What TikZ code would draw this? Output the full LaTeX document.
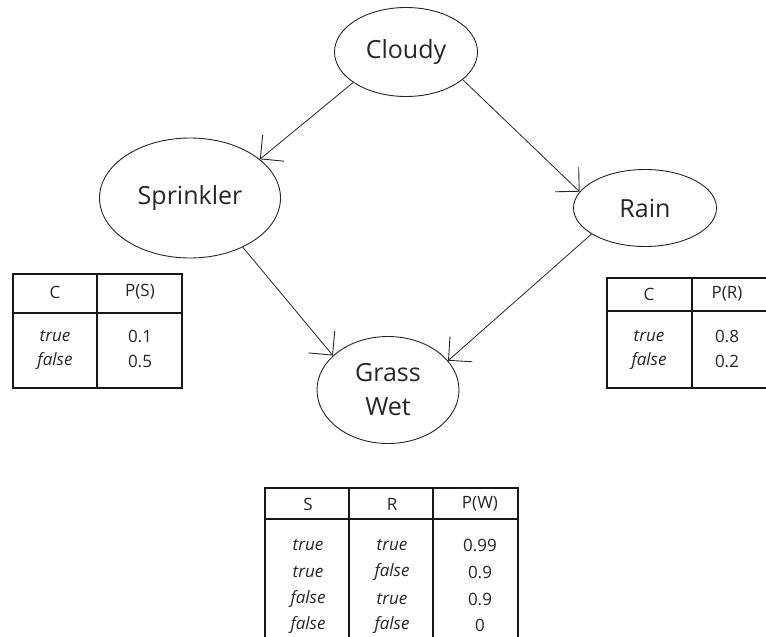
\documentclass[tikz,border=0pt]{standalone}
\usepackage{fontspec}
\setmainfont{Open Sans}
\usetikzlibrary{shapes.geometric,arrows.meta}
\begin{document}
\begin{tikzpicture}[x=1pt,y=-1pt,
  var/.style={draw=black!85,line width=0.9pt,ellipse,inner sep=0pt,
    font=\fontsize{25}{34}\selectfont,text=black!85,align=center},
  edge/.style={draw=black!85,line width=0.8pt,-{Straight Barb[angle=90:24pt,line width=0.9pt]}},
  tbl/.style={draw=black!90,line width=1.2pt},
  cell/.style={inner sep=0pt,font=\fontsize{17}{20}\selectfont,text=black!85},
  icell/.style={cell,font=\fontsize{17}{20}\selectfont\itshape}]
\clip (0,0) rectangle (766,637);
\fill[white] (0,0) rectangle (766,637);
% variables
\node[var,minimum width=143pt,minimum height=89pt] (cloudy) at (406,52) {Cloudy};
\node[var,minimum width=181pt,minimum height=120pt] (spr) at (190,198) {Sprinkler};
\node[var,minimum width=143pt,minimum height=77pt] (rain) at (645,208) {Rain};
\node[var,minimum width=142pt,minimum height=107pt] (wet) at (388,390) {Grass\\Wet};
% edges
\draw[edge] (cloudy.210) -- (spr.29);
\draw[edge] (cloudy.-26) -- (rain.166);
\draw[edge] (spr.-43) -- (wet.148);
\draw[edge] (rain.206) -- (wet.26);
% left table
\draw[tbl] (13,274) rectangle (182,388);
\draw[tbl] (13,313) -- (182,313);
\draw[tbl] (97,274) -- (97,388);
\node[cell] (lc) at (55,292) {C};
\node[cell] (lp) at (140,292) {P(S)};
\node[icell] (lt) at (55,336) {true};
\node[icell] (lf) at (55,361) {false};
\node[cell] (lv1) at (140,336) {0.1};
\node[cell] (lv2) at (140,361) {0.5};
% right table
\draw[tbl] (607,278) rectangle (780,388);
\draw[tbl] (607,311) -- (780,311);
\draw[tbl] (692,278) -- (692,388);
\node[cell] (rc) at (649,294) {C};
\node[cell] (rp) at (727,294) {P(R)};
\node[icell] (rt) at (649,336) {true};
\node[icell] (rf) at (649,361) {false};
\node[cell] (rv1) at (727,336) {0.8};
\node[cell] (rv2) at (727,361) {0.2};
% bottom table
\draw[tbl] (265,650) -- (265,488) -- (518,488) -- (518,650);
\draw[tbl] (265,519) -- (518,519);
\draw[tbl] (349,488) -- (349,650);
\draw[tbl] (433,488) -- (433,650);
\node[cell] (bs) at (308,504) {S};
\node[cell] (br) at (392,504) {R};
\node[cell] (bp) at (480,504) {P(W)};
\node[icell] (b11) at (308,545) {true};
\node[icell] (b12) at (392,545) {true};
\node[cell] (b13) at (480,545) {0.99};
\node[icell] (b21) at (308,572) {true};
\node[icell] (b22) at (392,572) {false};
\node[cell] (b23) at (480,572) {0.9};
\node[icell] (b31) at (308,599) {false};
\node[icell] (b32) at (392,599) {true};
\node[cell] (b33) at (480,599) {0.9};
\node[icell] (b41) at (308,625) {false};
\node[icell] (b42) at (392,625) {false};
\node[cell] (b43) at (480,625) {0};
\end{tikzpicture}
\end{document}
